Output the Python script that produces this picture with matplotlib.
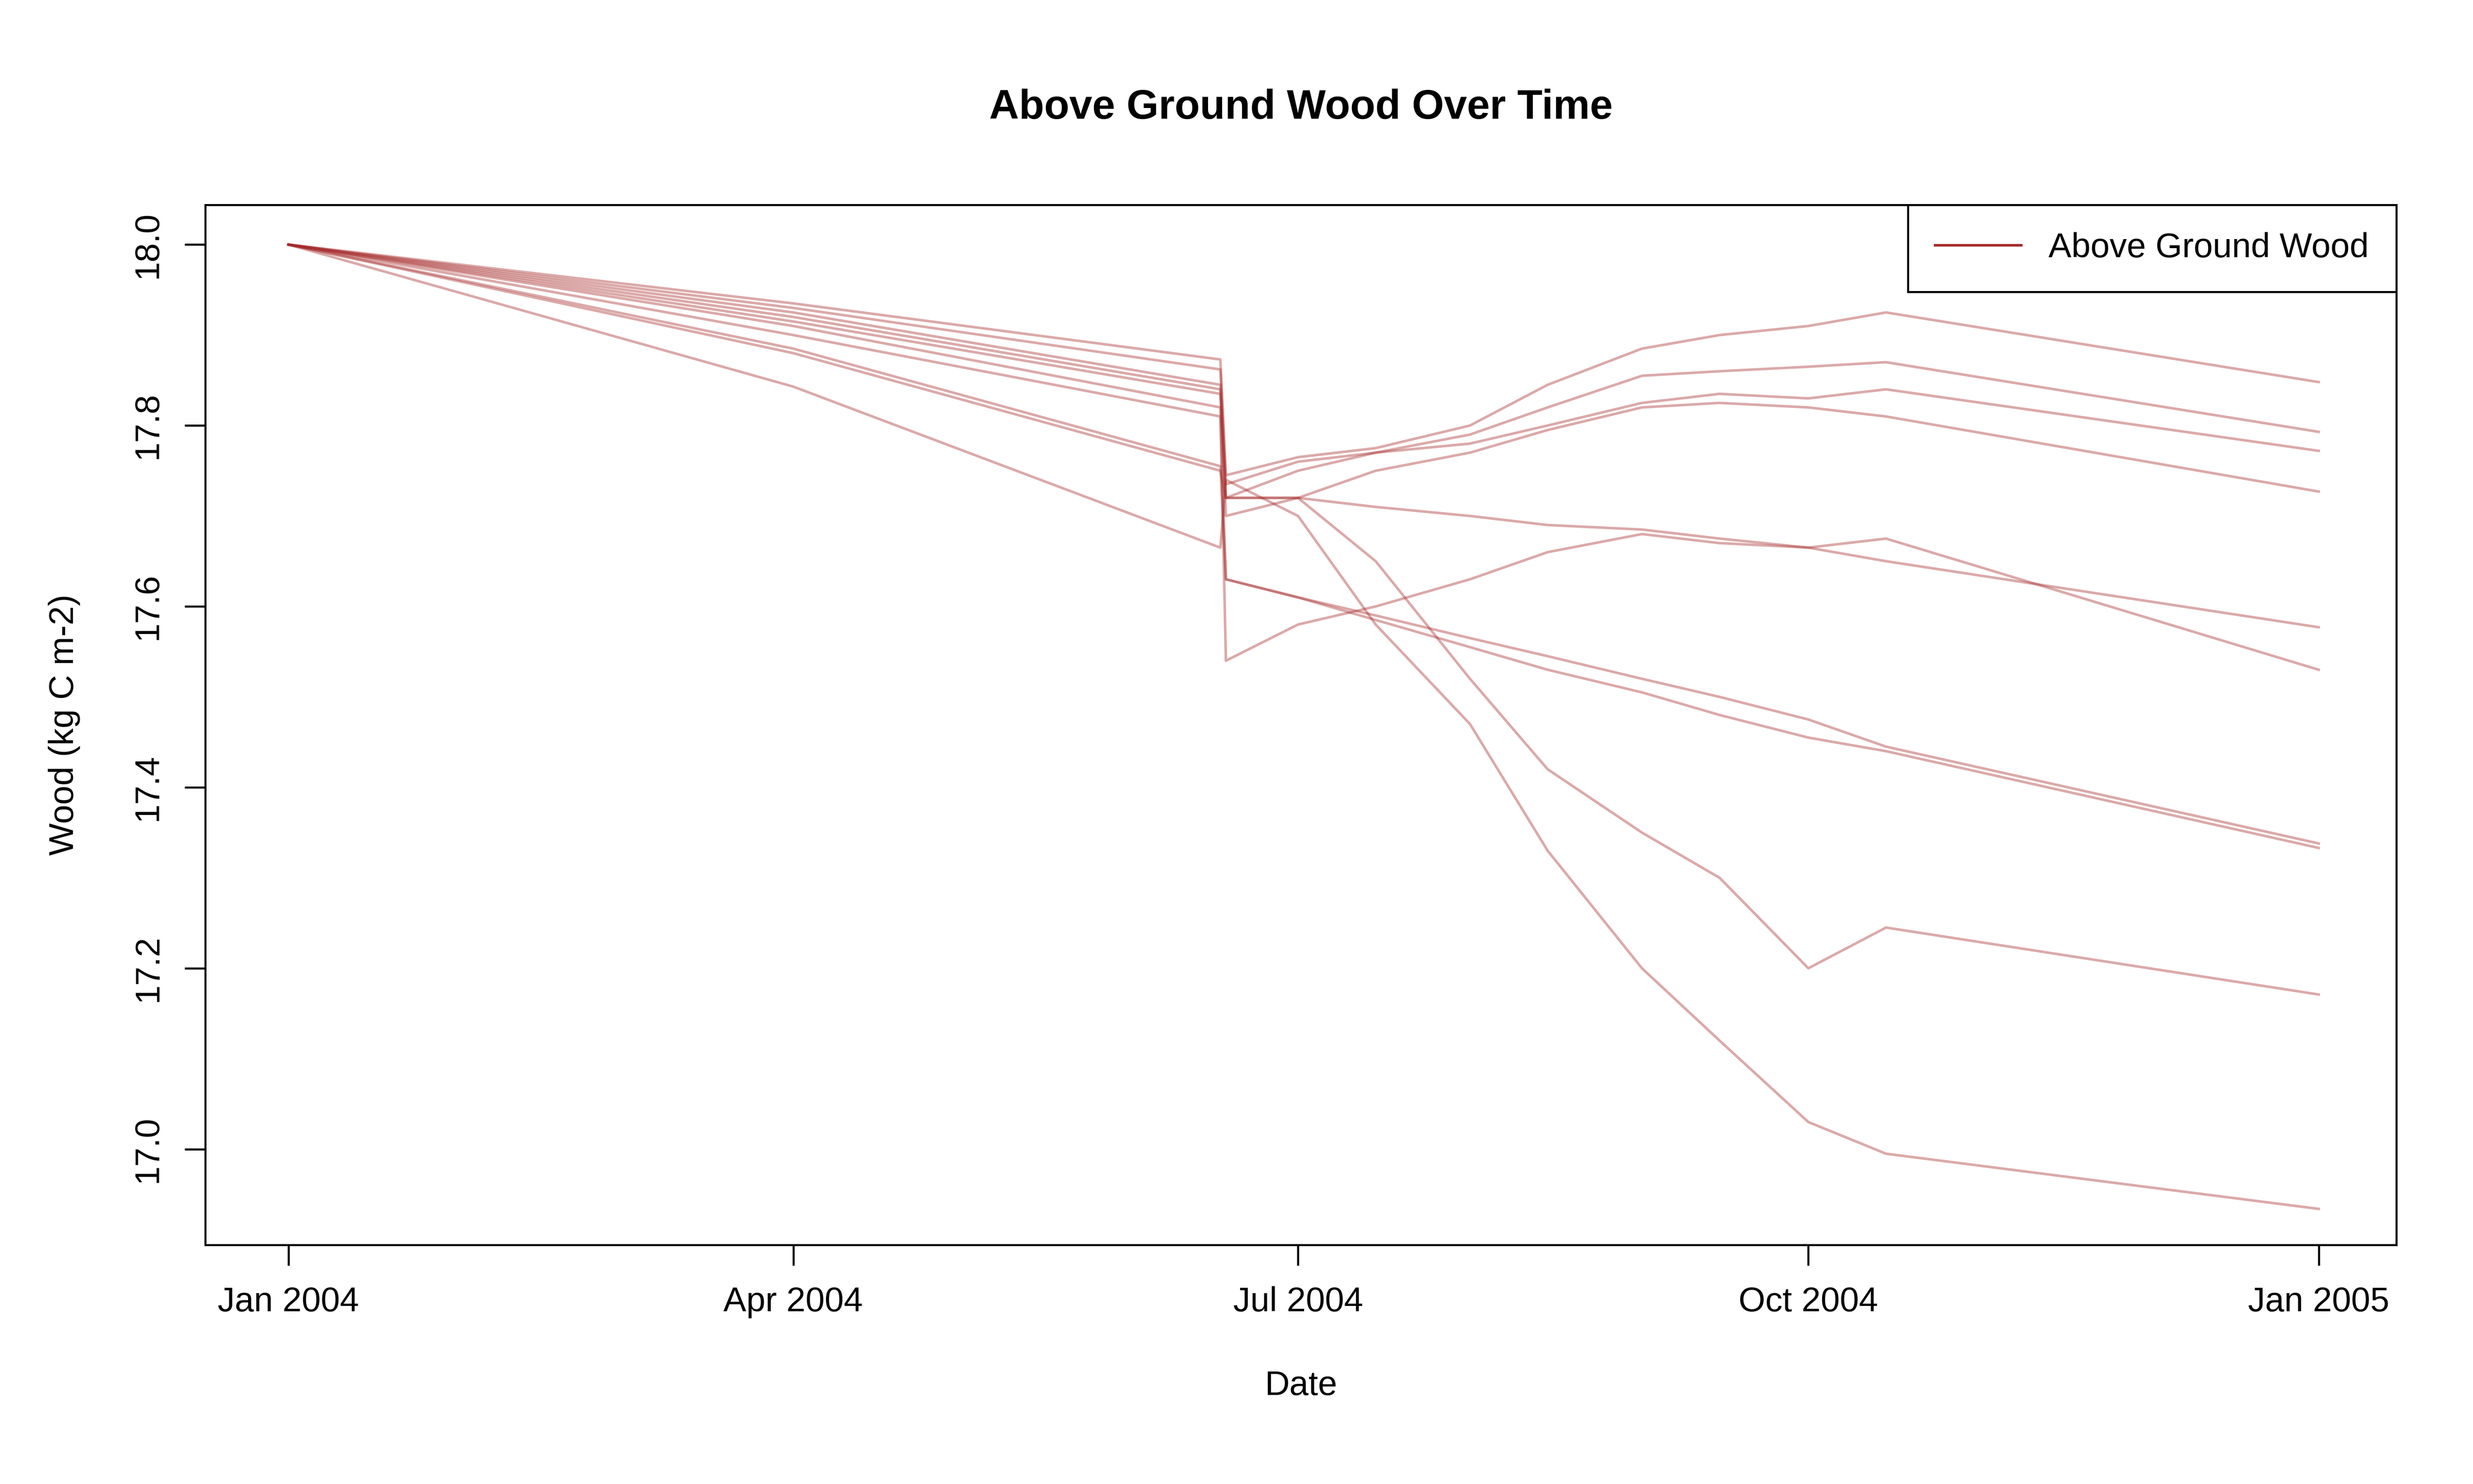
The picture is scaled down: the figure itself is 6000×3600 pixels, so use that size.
import numpy as np
import matplotlib
matplotlib.use('Agg')
import matplotlib.pyplot as plt
import matplotlib.dates as mdates

plt.rcParams['font.family'] = ['Liberation Sans', 'DejaVu Sans']

dates = np.array(['2004-01-01', '2004-04-01', '2004-06-17', '2004-06-18', '2004-07-01',
                  '2004-07-15', '2004-08-01', '2004-08-15', '2004-09-01', '2004-09-15',
                  '2004-10-01', '2004-10-15', '2005-01-01'], dtype='datetime64[D]')

wood_a = [18.0, 17.935, 17.873, 17.745, 17.765, 17.775, 17.80, 17.845, 17.885, 17.90, 17.91, 17.925, 17.848]
wood_b = [18.0, 17.930, 17.862, 17.735, 17.760, 17.770, 17.79, 17.820, 17.855, 17.86, 17.865, 17.870, 17.793]
wood_c = [18.0, 17.925, 17.845, 17.720, 17.750, 17.770, 17.78, 17.800, 17.825, 17.835, 17.830, 17.840, 17.772]
wood_d = [18.0, 17.920, 17.840, 17.700, 17.720, 17.750, 17.77, 17.795, 17.820, 17.825, 17.820, 17.810, 17.727]
wood_e = [18.0, 17.915, 17.835, 17.720, 17.720, 17.710, 17.70, 17.690, 17.685, 17.675, 17.665, 17.650, 17.577]
wood_f = [18.0, 17.910, 17.820, 17.540, 17.580, 17.600, 17.63, 17.660, 17.680, 17.670, 17.665, 17.675, 17.530]
wood_g = [18.0, 17.900, 17.810, 17.630, 17.610, 17.590, 17.565, 17.545, 17.520, 17.500, 17.475, 17.445, 17.338]
wood_h = [18.0, 17.885, 17.755, 17.630, 17.610, 17.585, 17.555, 17.530, 17.505, 17.480, 17.455, 17.440, 17.333]
wood_i = [18.0, 17.880, 17.750, 17.720, 17.720, 17.650, 17.52, 17.420, 17.350, 17.300, 17.200, 17.245, 17.171]
wood_j = [18.0, 17.843, 17.665, 17.740, 17.700, 17.580, 17.47, 17.330, 17.200, 17.120, 17.030, 16.995, 16.934]

series = [wood_a, wood_b, wood_c, wood_d, wood_e, wood_f, wood_g, wood_h, wood_i, wood_j]

fig = plt.figure(figsize=(20, 12), dpi=300)
ax = fig.add_axes([0.083, 0.161, 0.886, 0.701])
x = dates.astype('datetime64[ms]').astype(object)
for s in series:
    ax.plot(x, s, color='#a52a2a', alpha=0.4, lw=1.5)

ax.set_xlim(np.datetime64('2003-12-17').astype(object), np.datetime64('2005-01-15').astype(object))
ax.set_ylim(16.894, 18.044)
ax.set_yticks([17.0, 17.2, 17.4, 17.6, 17.8, 18.0])
ax.set_yticklabels(['17.0', '17.2', '17.4', '17.6', '17.8', '18.0'], rotation=90, va='center')
ticks = [np.datetime64(t).astype(object) for t in ['2004-01-01', '2004-04-01', '2004-07-01', '2004-10-01', '2005-01-01']]
ax.set_xticks(ticks)
ax.xaxis.set_major_formatter(mdates.DateFormatter('%b %Y'))
ax.tick_params(labelsize=20, length=12, width=1.2, pad=12)
for sp in ax.spines.values():
    sp.set_linewidth(1.2)

ax.set_title('Above Ground Wood Over Time', fontsize=24, fontweight='bold', pad=50)
ax.set_xlabel('Date', fontsize=20, labelpad=30)
ax.set_ylabel('Wood (kg C m-2)', fontsize=20, labelpad=30)
leg = ax.legend([plt.Line2D([], [], color='#a52a2a', lw=1.5)], ['Above Ground Wood'],
                loc='upper right', fontsize=20, fancybox=False, framealpha=1,
                borderaxespad=0, edgecolor='black', handlelength=2.5, borderpad=0.8)
leg.get_frame().set_linewidth(1.2)

fig.savefig('out.png')
